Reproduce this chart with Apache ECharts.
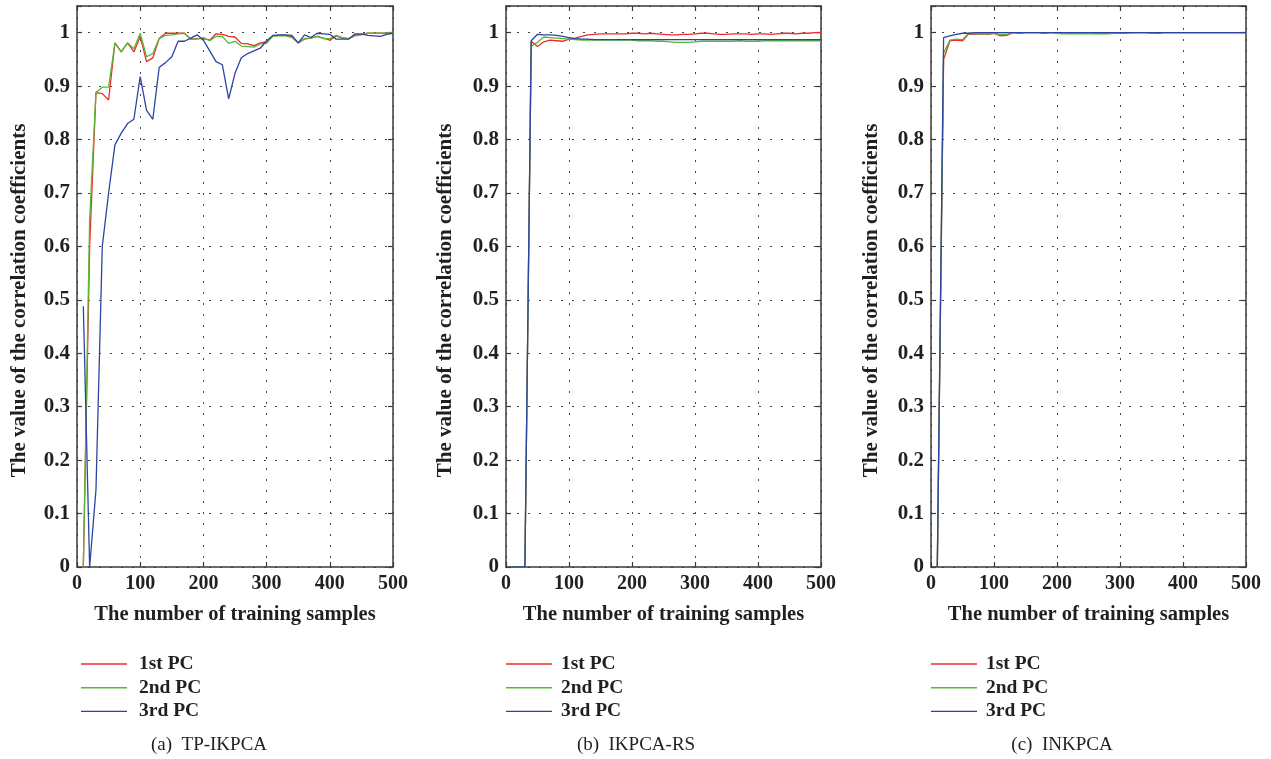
<!DOCTYPE html>
<html>
<head>
<meta charset="utf-8">
<script src="https://cdn.jsdelivr.net/npm/echarts@6/dist/echarts.min.js"></script>
<style>
html,body{margin:0;padding:0;background:#fff;}
#chart{width:1271px;height:759px;}
</style>
</head>
<body>
<div id="chart"></div>
<script>
// ---- Data ----
const samples = [10,20,30,40,50,60,70,80,90,100,110,120,130,140,150,160,170,180,190,200,210,220,230,240,250,260,270,280,290,300,310,320,330,340,350,360,370,380,390,400,410,420,430,440,450,460,470,480,490,500];
const seriesNames = ['1st PC','2nd PC','3rd PC'];
const panelCaptions = ['(a)  TP-IKPCA','(b)  IKPCA-RS','(c)  INKPCA'];
const xTitle = 'The number of training samples';
const yTitle = 'The value of the correlation coefficients';

// (a) TP-IKPCA
const tp1 = [0,0.60,0.888,0.886,0.874,0.981,0.964,0.981,0.964,0.993,0.946,0.953,0.989,0.999,0.999,0.999,0.999,0.988,0.989,0.989,0.986,0.998,0.997,0.993,0.992,0.980,0.979,0.976,0.981,0.983,0.994,0.995,0.995,0.992,0.981,0.989,0.990,0.993,0.990,0.986,0.994,0.990,0.989,0.996,0.997,0.999,0.999,0.999,0.999,1.0];
const tp2 = [0,0.65,0.888,0.898,0.898,0.981,0.964,0.981,0.970,0.999,0.955,0.961,0.989,0.995,0.996,0.998,0.999,0.988,0.988,0.991,0.985,0.993,0.993,0.980,0.984,0.975,0.974,0.973,0.979,0.980,0.994,0.994,0.994,0.991,0.981,0.988,0.990,0.993,0.989,0.989,0.995,0.991,0.989,0.994,0.996,0.999,0.999,0.999,0.999,1.0];
const tp3 = [0.488,0,0.144,0.60,0.70,0.79,0.812,0.83,0.838,0.918,0.855,0.838,0.935,0.944,0.955,0.984,0.984,0.990,0.996,0.986,0.966,0.946,0.940,0.876,0.924,0.953,0.961,0.966,0.971,0.985,0.995,0.996,0.996,0.995,0.981,0.996,0.991,0.999,0.998,0.997,0.988,0.988,0.988,0.998,0.998,0.995,0.994,0.993,0.997,0.999];

// (b) IKPCA-RS
const rs1 = [0,0,0,0.984,0.974,0.983,0.986,0.985,0.984,0.988,0.990,0.993,0.996,0.997,0.998,0.998,0.998,0.998,0.998,0.999,0.999,0.998,0.999,0.998,0.997,0.996,0.996,0.997,0.997,0.998,0.999,0.999,0.998,0.997,0.997,0.998,0.998,0.998,0.997,0.998,0.998,0.997,0.998,0.999,0.999,0.998,0.999,0.999,1.0,1.0];
const rs2 = [0,0,0,0.975,0.982,0.992,0.991,0.990,0.989,0.988,0.987,0.986,0.986,0.986,0.986,0.986,0.986,0.986,0.986,0.986,0.985,0.985,0.985,0.984,0.984,0.983,0.982,0.982,0.982,0.983,0.984,0.984,0.984,0.984,0.984,0.984,0.985,0.984,0.984,0.984,0.985,0.985,0.985,0.985,0.985,0.985,0.985,0.985,0.985,0.985];
const rs3 = [0,0,0,0.985,0.997,0.996,0.996,0.995,0.993,0.991,0.989,0.988,0.988,0.987,0.987,0.987,0.987,0.987,0.987,0.987,0.987,0.987,0.987,0.987,0.987,0.987,0.987,0.987,0.987,0.987,0.987,0.987,0.987,0.987,0.987,0.987,0.987,0.987,0.987,0.987,0.987,0.987,0.987,0.987,0.987,0.987,0.987,0.987,0.987,0.987];

// (c) INKPCA
const nk1 = [0,0.950,0.985,0.986,0.985,0.998,0.997,0.998,0.997,0.999,0.994,0.995,1.0,0.999,1.0,1.0,1.0,0.999,1.0,1.0,1.0,0.999,1.0,0.999,1.0,0.999,0.999,0.999,1.0,1.0,1.0,1.0,1.0,1.0,1.0,0.999,1.0,1.0,1.0,1.0,1.0,1.0,1.0,1.0,1.0,1.0,1.0,1.0,1.0,1.0];
const nk2 = [0,0.962,0.986,0.988,0.987,0.999,0.998,0.998,0.998,0.999,0.997,0.997,1.0,1.0,1.0,1.0,1.0,1.0,1.0,0.999,0.998,0.998,0.998,0.998,0.998,0.998,0.998,0.998,0.999,0.999,0.999,1.0,1.0,1.0,0.999,1.0,1.0,1.0,1.0,1.0,1.0,1.0,1.0,1.0,1.0,1.0,1.0,1.0,1.0,1.0];
const nk3 = [0,0.991,0.994,0.997,0.999,0.999,1.0,1.0,1.0,1.0,1.0,1.0,1.0,1.0,1.0,1.0,1.0,1.0,1.0,1.0,1.0,1.0,1.0,1.0,1.0,1.0,1.0,1.0,1.0,1.0,1.0,1.0,1.0,1.0,1.0,1.0,1.0,1.0,1.0,1.0,1.0,1.0,1.0,1.0,1.0,1.0,1.0,1.0,1.0,1.0];

const panels = [[tp1,tp2,tp3],[rs1,rs2,rs3],[nk1,nk2,nk3]];

// ---- Styling ----
const colors = ['#ee2b2b','#55b935','#2c44a4'];
const FONT = '"Liberation Serif","DejaVu Serif",serif';
const TXT = '#231f20';
const AX = '#3a3a3a';
const gridLeft = [77, 506, 931];
const gridW = [316, 315, 315];
const gridTop = 6, gridH = 561;
const yTitleX = [20, 446, 872];
const captionX = [209, 636, 1062];
const legendLeft = [76, 501, 926];
const legendTextGap = [7, 4, 4];

const grids = [], xAxes = [], yAxes = [], series = [], legends = [], graphics = [];
for (let p = 0; p < 3; p++) {
  grids.push({left: gridLeft[p], top: gridTop, width: gridW[p], height: gridH, show: false});
  // bottom x axis (labels + grid)
  xAxes.push({
    type: 'value', gridIndex: p, min: 0, max: 500, interval: 100, position: 'bottom',
    axisLine: {show: true, onZero: false, lineStyle: {color: AX, width: 1.5}},
    axisTick: {show: true, inside: true, length: 5, lineStyle: {color: AX, width: 1.2}},
    axisLabel: {color: TXT, fontFamily: FONT, fontWeight: 'bold', fontSize: 20, margin: 7},
    splitLine: {show: true, lineStyle: {color: '#444', width: 1, type: [2, 9]}},
    name: xTitle, nameLocation: 'middle', nameGap: 37,
    nameTextStyle: {color: TXT, fontFamily: FONT, fontWeight: 'bold', fontSize: 20.5}
  });
  // top mirror x axis
  xAxes.push({
    type: 'value', gridIndex: p, min: 0, max: 500, interval: 100, position: 'top',
    axisLine: {show: true, onZero: false, lineStyle: {color: AX, width: 1.5}},
    axisTick: {show: true, inside: true, length: 5, lineStyle: {color: AX, width: 1.2}},
    axisLabel: {show: false}, splitLine: {show: false}
  });
  // left y axis
  yAxes.push({
    type: 'value', gridIndex: p, min: 0, max: 1.05, interval: 0.1, position: 'left',
    axisLine: {show: true, onZero: false, lineStyle: {color: AX, width: 1.5}},
    axisTick: {show: true, inside: true, length: 5, lineStyle: {color: AX, width: 1.2}},
    axisLabel: {color: TXT, fontFamily: FONT, fontWeight: 'bold', fontSize: 21, margin: 7,
      formatter: function (v) { return v > 1.001 ? '' : String(+v.toFixed(2)); }},
    splitLine: {show: true, lineStyle: {color: '#444', width: 1, type: [2, 9]}}
  });
  // right mirror y axis
  yAxes.push({
    type: 'value', gridIndex: p, min: 0, max: 1.05, interval: 0.1, position: 'right',
    axisLine: {show: true, onZero: false, lineStyle: {color: AX, width: 1.5}},
    axisTick: {show: true, inside: true, length: 5, lineStyle: {color: AX, width: 1.2}},
    axisLabel: {show: false}, splitLine: {show: false}
  });
  for (let s = 0; s < 3; s++) {
    series.push({
      name: seriesNames[s], type: 'line', xAxisIndex: p * 2, yAxisIndex: p * 2,
      data: samples.map((x, i) => [x, panels[p][s][i]]),
      symbol: 'none', showSymbol: false, animation: false,
      lineStyle: {color: colors[s], width: 1.3}, itemStyle: {color: colors[s]},
      clip: true
    });
  }
  legends.push({
    orient: 'vertical', left: legendLeft[p], top: 649,
    data: seriesNames, itemWidth: 46, itemHeight: 20, itemGap: 3.7,
    icon: 'path://M0,9.3 L46,9.3 L46,10.7 L0,10.7 Z',
    textStyle: {color: TXT, fontFamily: FONT, fontWeight: 'bold', fontSize: 19.5, lineHeight: 20, padding: [0, 0, 0, legendTextGap[p]]},
    selectedMode: false
  });
  graphics.push({
    type: 'text', x: yTitleX[p], y: gridTop + gridH / 2 + 14, rotation: Math.PI / 2,
    style: {text: yTitle, fill: TXT, font: 'bold 21px ' + FONT, textAlign: 'center', textVerticalAlign: 'middle'}
  });
  graphics.push({
    type: 'text', x: captionX[p], y: 745,
    style: {text: panelCaptions[p], fill: TXT, font: '19px ' + FONT, textAlign: 'center', textVerticalAlign: 'middle'}
  });
}

const chart = echarts.init(document.getElementById('chart'), null, {renderer: 'canvas'});
chart.setOption({
  animation: false,
  backgroundColor: '#ffffff',
  grid: grids, xAxis: xAxes, yAxis: yAxes, series: series, legend: legends,
  graphic: graphics
});
</script>
</body>
</html>
